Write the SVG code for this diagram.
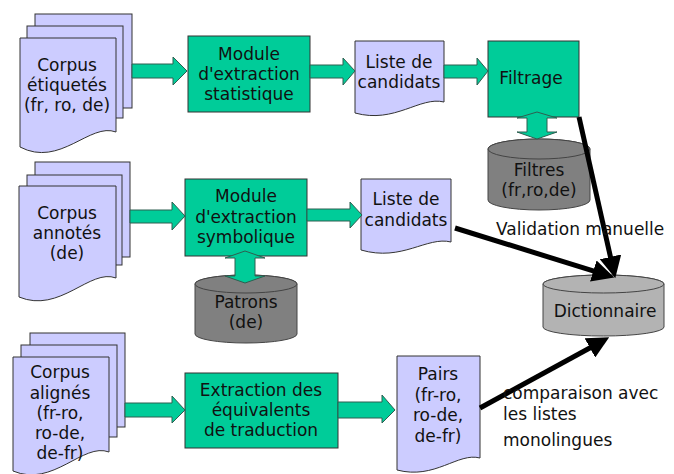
<svg xmlns="http://www.w3.org/2000/svg" width="674" height="474" viewBox="0 0 674 474">
<defs>
<style>
.doc{fill:#CCCCFF;stroke:#333333;stroke-width:1}
.box{fill:#00CC99;stroke:#333333;stroke-width:1}
.cyl{fill:#808080;stroke:#444444;stroke-width:1}
.cylL{fill:#B3B3B3;stroke:#444444;stroke-width:1}
.blk{fill:#00CC99;stroke:#2E5E50;stroke-width:1}
.line{stroke:#000000;stroke-width:5;fill:none;marker-end:url(#ah)}
text{font-family:"DejaVu Sans",Verdana,sans-serif;font-size:17px;fill:#111111}
.c{text-anchor:middle}
</style>
<marker id="ah" markerUnits="userSpaceOnUse" markerWidth="22" markerHeight="22" refX="6" refY="10" orient="auto" viewBox="0 0 20 20">
<path d="M0,0 L20,10 L0,20 Z" fill="#000000"/>
</marker>
</defs>
<rect width="674" height="474" fill="#FFFFFF"/>

<g id="corpus-etiquetes">
<rect class="doc" x="35" y="14" width="97" height="94"/>
<rect class="doc" x="27" y="26" width="96" height="92"/>
<path class="doc" d="M20,38 H116 V132 C90,122 60,168 20,147 Z"/>
<text class="c" x="67" y="71">Corpus</text>
<text class="c" x="67" y="91">étiquetés</text>
<text class="c" x="67" y="111">(fr, ro, de)</text>
</g>

<g id="module-statistique">
<rect class="box" x="188" y="36" width="122" height="76"/>
<text class="c" x="249" y="60">Module</text>
<text class="c" x="249" y="80">d'extraction</text>
<text class="c" x="249" y="100">statistique</text>
</g>

<g id="liste-candidats-1">
<path class="doc" d="M355,41 H444 V102 C420,96 395,124 355,113 Z"/>
<text class="c" x="399" y="68">Liste de</text>
<text class="c" x="399" y="88">candidats</text>
</g>

<g id="filtrage">
<rect class="box" x="488" y="41" width="91" height="76"/>
<text class="c" x="531" y="84">Filtrage</text>
</g>

<g id="filtres">
<path class="cyl" d="M488,149 V200 A51,10 0 0 0 590,200 V149 A51,10 0 0 0 488,149 Z"/>
<ellipse class="cyl" cx="539" cy="149" rx="51" ry="10"/>
<text class="c" x="539" y="176">Filtres</text>
<text class="c" x="539" y="196">(fr,ro,de)</text>
</g>

<g id="corpus-annotes">
<rect class="doc" x="35" y="162" width="95" height="95"/>
<rect class="doc" x="27" y="175" width="95" height="90"/>
<path class="doc" d="M19,186 H116 V278 C90,268 60,314 19,297 Z"/>
<text class="c" x="67" y="219">Corpus</text>
<text class="c" x="67" y="239">annotés</text>
<text class="c" x="67" y="259">(de)</text>
</g>

<g id="module-symbolique">
<rect class="box" x="185" y="179" width="122" height="77"/>
<text class="c" x="246" y="202">Module</text>
<text class="c" x="246" y="223">d'extraction</text>
<text class="c" x="246" y="243">symbolique</text>
</g>

<g id="liste-candidats-2">
<path class="doc" d="M361,179 H451 V242 C427,236 402,262 361,250 Z"/>
<text class="c" x="406" y="205">Liste de</text>
<text class="c" x="406" y="226">candidats</text>
</g>

<g id="patrons">
<path class="cyl" d="M195,284 V334 A51,9 0 0 0 297,334 V284 A51,9 0 0 0 195,284 Z"/>
<ellipse class="cyl" cx="246" cy="284" rx="51" ry="9"/>
<text class="c" x="246" y="308">Patrons</text>
<text class="c" x="246" y="328">(de)</text>
</g>

<g id="dictionnaire">
<path class="cylL" d="M543,284 V327 A60.5,9 0 0 0 664,327 V284 A60.5,9 0 0 0 543,284 Z"/>
<ellipse class="cylL" cx="603.5" cy="284" rx="60.5" ry="9"/>
<text class="c" x="605" y="317">Dictionnaire</text>
</g>

<g id="corpus-alignes">
<rect class="doc" x="30" y="333" width="95" height="94"/>
<rect class="doc" x="21" y="345" width="96" height="92"/>
<path class="doc" d="M13,357 H109 V452 C83,442 53,488 13,471 Z"/>
<text class="c" x="60" y="378">Corpus</text>
<text class="c" x="60" y="399">alignés</text>
<text class="c" x="60" y="419">(fr-ro,</text>
<text class="c" x="60" y="439">ro-de,</text>
<text class="c" x="60" y="459">de-fr)</text>
</g>

<g id="extraction-equivalents">
<rect class="box" x="185" y="373" width="153" height="75"/>
<text class="c" x="261" y="396">Extraction des</text>
<text class="c" x="261" y="416">équivalents</text>
<text class="c" x="261" y="436">de traduction</text>
</g>

<g id="pairs">
<path class="doc" d="M397,356 H480 V458 C458,452 435,480 397,470 Z"/>
<text class="c" x="438" y="380">Pairs</text>
<text class="c" x="438" y="401">(fr-ro,</text>
<text class="c" x="438" y="421">ro-de,</text>
<text class="c" x="438" y="442">de-fr)</text>
</g>

<g id="connectors">
<polygon class="blk" points="132,64 173,64 173,57 187,71 173,85 173,78 132,78"/>
<polygon class="blk" points="310,65 343,65 343,58 355,71 343,85 343,78 310,78"/>
<polygon class="blk" points="444,65 477,65 477,58 488,71 477,85 477,78 444,78"/>
<polygon class="blk" points="537,112 557,118 547,118 547,132 557,132 537,139 517,132 527,132 527,118 517,118"/>
<polygon class="blk" points="130,210 172,210 172,202 185,216 172,230 172,223 130,223"/>
<polygon class="blk" points="307,209 350,209 350,202 362,215 350,228 350,221 307,221"/>
<polygon class="blk" points="245,251 265,258 255,258 255,276 265,276 245,283 225,276 235,276 235,258 225,258"/>
<polygon class="blk" points="125,403 172,403 172,396 185,410 172,423 172,417 125,417"/>
<polygon class="blk" points="338,402 382,402 382,395 395,410 382,423 382,418 338,418"/>
<line class="line" x1="579" y1="117" x2="611.9" y2="263.3"/>
<line class="line" x1="455" y1="228" x2="599.6" y2="272.9"/>
<line class="line" x1="480" y1="408" x2="595.7" y2="344.7"/>
</g>

<g id="labels">
<text x="496" y="235">Validation manuelle</text>
<text x="503" y="399">comparaison avec</text>
<text x="503" y="420">les listes</text>
<text x="503" y="446">monolingues</text>
</g>
</svg>
